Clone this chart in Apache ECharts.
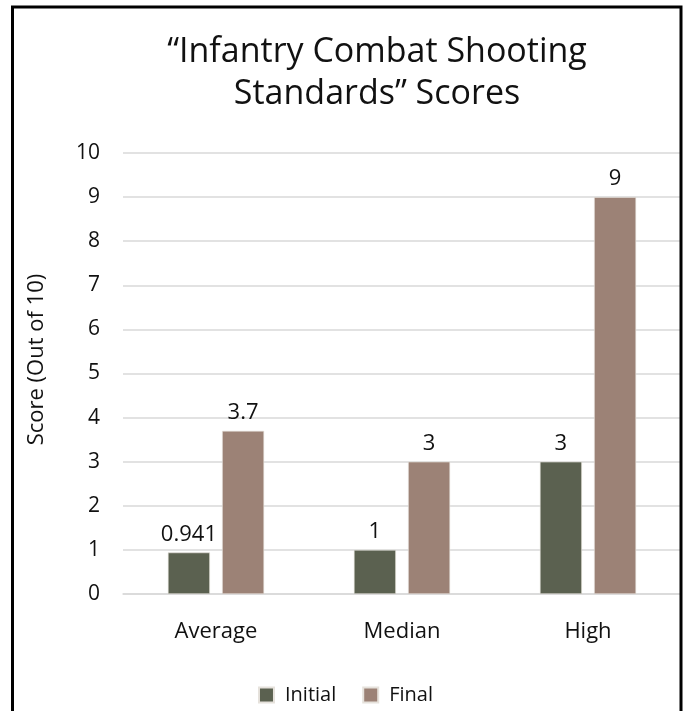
<!DOCTYPE html>
<html>
<head>
<meta charset="utf-8">
<script src="https://cdn.jsdelivr.net/npm/echarts@6/dist/echarts.min.js"></script>
<style>
  html, body { margin: 0; padding: 0; background: #ffffff; }
  #chart { width: 691px; height: 711px; }
</style>
</head>
<body>
<div id="chart"></div>
<script>
// Score summary categories and series values (out of 10)
const categories = ['Average', 'Median', 'High'];
const initialScores = [0.941, 1, 3];
const finalScores = [3.7, 3, 9];
const yTicks = [0, 1, 2, 3, 4, 5, 6, 7, 8, 9, 10];

const FONT = '"Open Sans", "Noto Sans", sans-serif';
const INITIAL_COLOR = '#5b6150';
const FINAL_COLOR = '#9c8276';

const chart = echarts.init(document.getElementById('chart'), null, { renderer: 'canvas' });

const labelStyle = {
  show: true,
  position: 'top',
  distance: 7,
  color: '#111111',
  fontFamily: FONT,
  fontSize: 22
};

chart.setOption({
  backgroundColor: '#ffffff',
  animation: false,
  title: {
    text: '\u201cInfantry Combat Shooting\nStandards\u201d Scores',
    left: 372,
    top: 26,
    textAlign: 'center',
    textStyle: {
      fontFamily: FONT,
      fontWeight: 'normal',
      fontSize: 34,
      lineHeight: 42,
      color: '#111111'
    }
  },
  legend: {
    data: ['Initial', 'Final'],
    left: 'center',
    top: 680,
    itemWidth: 15,
    itemHeight: 15,
    itemGap: 26,
    icon: 'rect',
    textStyle: { fontFamily: FONT, fontSize: 20, color: '#111111', padding: [0, 0, 0, 6] }
  },
  grid: { left: 123, right: 10, top: 153, bottom: 117, containLabel: false },
  xAxis: {
    type: 'category',
    data: categories,
    axisLine: { show: true, lineStyle: { color: '#d9d9d9', width: 1.5 } },
    axisTick: { show: false },
    axisLabel: { fontFamily: FONT, fontSize: 22, color: '#111111', margin: 27 }
  },
  yAxis: {
    type: 'value',
    min: yTicks[0],
    max: yTicks[yTicks.length - 1],
    interval: 1,
    name: 'Score (Out of 10)',
    nameLocation: 'middle',
    nameGap: 75,
    nameRotate: 90,
    nameTextStyle: { fontFamily: FONT, fontSize: 22, color: '#111111', padding: [0, 0, 0, 28] },
    axisLine: { show: false },
    axisTick: { show: false },
    splitLine: { lineStyle: { color: '#d9d9d9', width: 1.5 } },
    axisLabel: { fontFamily: FONT, fontSize: 21, color: '#111111', margin: 23 }
  },
  series: [
    {
      name: 'Initial',
      type: 'bar',
      data: initialScores,
      barWidth: 42,
      barGap: '29%',
      itemStyle: { color: INITIAL_COLOR, borderColor: '#e6e2dc', borderWidth: 0.6 },
      label: labelStyle
    },
    {
      name: 'Final',
      type: 'bar',
      data: finalScores,
      barWidth: 42,
      itemStyle: { color: FINAL_COLOR, borderColor: '#e6e2dc', borderWidth: 0.6 },
      label: labelStyle
    }
  ],
  graphic: [
    {
      type: 'rect',
      shape: { x: 12.5, y: 7, width: 668.5, height: 730 },
      style: { fill: 'none', stroke: '#000000', lineWidth: 3 },
      silent: true,
      z: 100
    }
  ]
});
</script>
</body>
</html>
